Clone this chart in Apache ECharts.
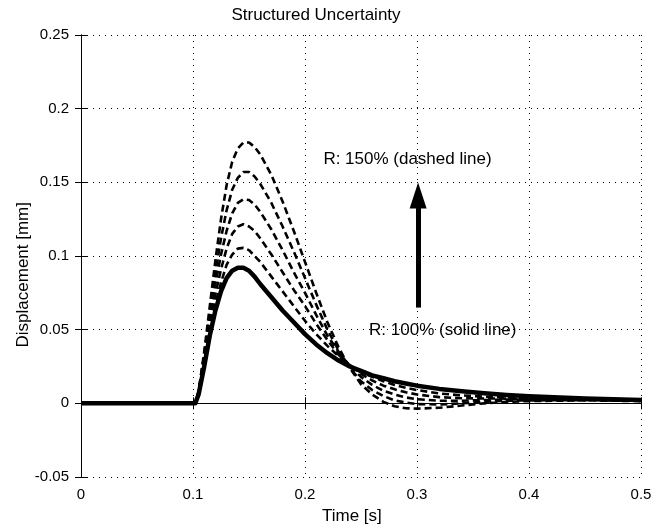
<!DOCTYPE html>
<html>
<head>
<meta charset="utf-8">
<script src="https://cdn.jsdelivr.net/npm/echarts@6/dist/echarts.min.js"></script>
<style>html,body{margin:0;background:#fff}#chart{width:666px;height:528px}</style>
</head>
<body>
<div id="chart"></div>
<script>
// sample times [s]
var timeS = [0, 0.1, 0.102, 0.105, 0.11, 0.115, 0.12, 0.125, 0.13, 0.135, 0.14, 0.145, 0.15, 0.155, 0.16, 0.17, 0.18, 0.19,
    0.2, 0.21, 0.22, 0.23, 0.24, 0.25, 0.26, 0.27, 0.28, 0.29, 0.3, 0.32, 0.34, 0.36, 0.38, 0.4, 0.45, 0.5];
// displacement [mm]
var r100 = [0, 0, 0, 0.006, 0.025, 0.046, 0.063, 0.076, 0.085, 0.090, 0.092, 0.092, 0.090, 0.086, 0.081, 0.072, 0.063, 0.055,
    0.047, 0.040, 0.034, 0.029, 0.025, 0.022, 0.019, 0.017, 0.015, 0.0135, 0.012, 0.0098, 0.0082, 0.0068, 0.0057, 0.0048, 0.0032, 0.0022];
var r110 = [0, 0, 0, 0.007, 0.027, 0.050, 0.068, 0.082, 0.094, 0.101, 0.105, 0.1055, 0.104, 0.100, 0.096, 0.086, 0.076, 0.066,
    0.056, 0.047, 0.039, 0.032, 0.026, 0.021, 0.018, 0.015, 0.0125, 0.0105, 0.009, 0.0067, 0.0054, 0.0045, 0.0040, 0.0037, 0.003, 0.0021];
var r120 = [0, 0, 0, 0.007, 0.029, 0.053, 0.074, 0.091, 0.105, 0.115, 0.120, 0.1215, 0.120, 0.117, 0.112, 0.101, 0.089, 0.077,
    0.066, 0.054, 0.043, 0.033, 0.026, 0.020, 0.0155, 0.012, 0.0095, 0.0075, 0.006, 0.0042, 0.0035, 0.0033, 0.0032, 0.0031, 0.0027, 0.002];
var r130 = [0, 0, 0, 0.007, 0.031, 0.057, 0.081, 0.101, 0.117, 0.129, 0.136, 0.1385, 0.138, 0.135, 0.130, 0.118, 0.104, 0.089,
    0.075, 0.060, 0.046, 0.035, 0.025, 0.018, 0.0125, 0.0085, 0.006, 0.004, 0.0028, 0.0018, 0.0018, 0.0022, 0.0025, 0.0026, 0.0025, 0.0019];
var r140 = [0, 0, 0, 0.008, 0.033, 0.061, 0.088, 0.112, 0.131, 0.145, 0.153, 0.157, 0.157, 0.154, 0.149, 0.136, 0.120, 0.103,
    0.085, 0.067, 0.050, 0.036, 0.024, 0.015, 0.009, 0.005, 0.002, 0.0005, -0.0005, -0.0008, 0.0, 0.001, 0.0018, 0.002, 0.0022, 0.0017];
var r150 = [0, 0, 0, 0.008, 0.035, 0.066, 0.097, 0.125, 0.148, 0.164, 0.173, 0.177, 0.177, 0.174, 0.169, 0.155, 0.137, 0.117,
    0.096, 0.075, 0.055, 0.038, 0.024, 0.013, 0.006, 0.001, -0.002, -0.0033, -0.0036, -0.003, -0.0015, 0.0, 0.001, 0.0015, 0.002, 0.0015];
var dashedSets = [r110, r120, r130, r140, r150];

var xTicks = [0, 0.1, 0.2, 0.3, 0.4, 0.5];
var yTicks = [-0.05, 0, 0.05, 0.1, 0.15, 0.2, 0.25];

var font = "'Liberation Sans', Arial, sans-serif";

function pairs(ys) {
    return timeS.map(function (t, i) { return [t, ys[i]]; });
}

var series = [];
dashedSets.forEach(function (ys) {
    series.push({
        type: 'line', data: pairs(ys), showSymbol: false, smooth: false,
        lineStyle: {color: '#000', width: 2.6, type: [7, 4], join: 'round'}
    });
});
series.push({
    type: 'line', data: pairs(r100), showSymbol: false, smooth: false,
    lineStyle: {color: '#000', width: 4.5, join: 'round'},
    markLine: {
        silent: true, symbol: ['none', 'triangle'], symbolSize: [17, 26],
        lineStyle: {color: '#000', width: 5, type: 'solid'},
        label: {show: false},
        data: [[{coord: [0.301, 0.065]}, {coord: [0.301, 0.141]}]]
    },
    markPoint: {
        silent: true, symbol: 'circle', symbolSize: 1,
        itemStyle: {color: 'rgba(0,0,0,0)'},
        label: {show: true, position: 'inside', color: '#000', fontSize: 17, fontFamily: font},
        data: [
            {coord: [0.2915, 0.1657], label: {formatter: 'R: 150% (dashed line)'}},
            {coord: [0.323, 0.0496], label: {formatter: 'R: 100% (solid line)'}}
        ]
    }
});

var axisLine = {show: true, lineStyle: {color: '#000', width: 1}};
var axisTick = {show: true, inside: true, length: 6, lineStyle: {color: '#000'}};
var grid = {type: [1, 5], color: '#000', width: 1};

var option = {
    animation: false,
    backgroundColor: '#fff',
    title: {
        text: 'Structured Uncertainty', left: 311, top: 2, textAlign: 'center',
        textStyle: {color: '#000', fontSize: 17, fontWeight: 'normal', fontFamily: font}
    },
    grid: {left: 81, right: 25, top: 35, bottom: 51},
    xAxis: [{
        type: 'value', min: xTicks[0], max: xTicks[xTicks.length - 1], interval: 0.1,
        axisLine: axisLine, axisTick: axisTick,
        axisLabel: {color: '#000', fontSize: 15, fontFamily: font, margin: 10},
        splitLine: {show: true, lineStyle: grid}
    }, {
        type: 'value', position: 'top', min: 0, max: 0.5, interval: 0.1,
        axisLine: axisLine, axisTick: axisTick, axisLabel: {show: false}, splitLine: {show: false}
    }],
    yAxis: [{
        type: 'value', min: yTicks[0], max: yTicks[yTicks.length - 1], interval: 0.05,
        axisLine: axisLine, axisTick: axisTick,
        axisLabel: {color: '#000', fontSize: 15, fontFamily: font, margin: 12},
        splitLine: {show: true, lineStyle: grid}
    }, {
        type: 'value', position: 'right', min: -0.05, max: 0.25, interval: 0.05,
        axisLine: axisLine, axisTick: axisTick, axisLabel: {show: false}, splitLine: {show: false}
    }],
    graphic: [{
        type: 'text', left: 15, top: 202, rotation: Math.PI / 2,
        style: {text: 'Displacement [mm]', fill: '#000', fontSize: 17, fontFamily: font}
    }, {
        type: 'text', left: 322, top: 508,
        style: {text: 'Time [s]', fill: '#000', fontSize: 17, fontFamily: font}
    }],
    series: series
};

var chart = echarts.init(document.getElementById('chart'));
chart.setOption(option);
</script>
</body>
</html>
